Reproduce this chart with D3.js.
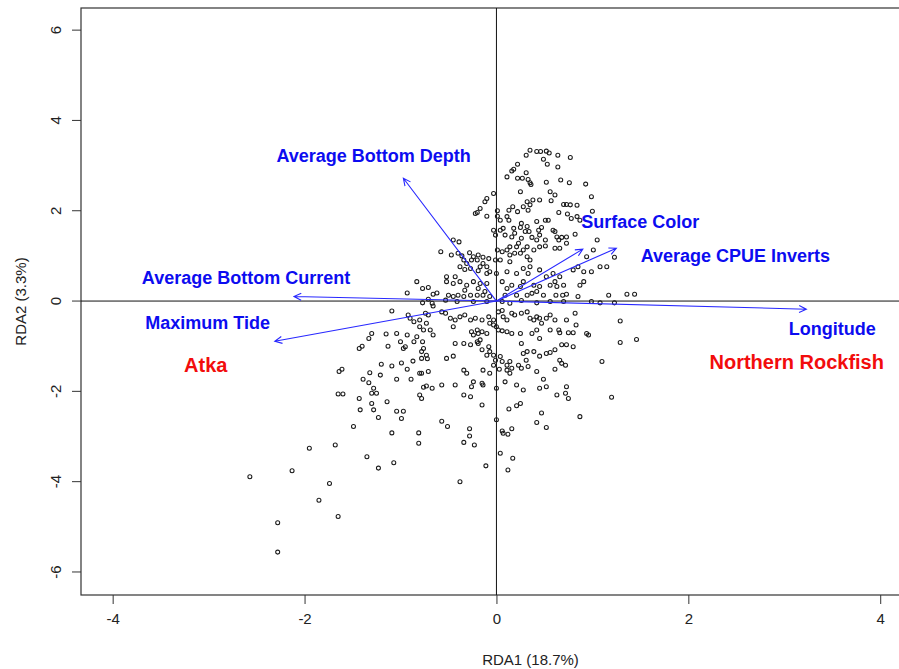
<!DOCTYPE html>
<html>
<head>
<meta charset="utf-8">
<script src="https://cdn.jsdelivr.net/npm/d3@7"></script>
<style>
  html, body { margin: 0; padding: 0; background: #fff; }
  svg { display: block; font-family: "Liberation Sans", Arial, sans-serif; }
</style>
</head>
<body>
<div id="chart"></div>
<script>
// site scores [RDA1, RDA2]
const siteScores = [
  [0.31,3.23],[0.35,3.34],[0.42,3.31],[0.46,3.31],[0.52,3.32],[0.55,3.28],[0.64,3.23],[0.77,3.18],
  [0.49,3.14],[0.53,3.03],[0.64,2.97],[0.22,3.03],[0.18,2.92],[0.16,2.88],[0.31,2.84],[0.22,2.72],
  [0.27,2.72],[0.33,2.69],[0.35,2.62],[0.36,2.58],[0.52,2.63],[0.67,2.68],[0.76,2.62],[0.93,2.59],
  [0.11,2.75],[0.25,2.42],[-0.03,2.38],[-0.10,2.27],[-0.12,2.20],[-0.17,2.05],[-0.22,1.94],[-0.20,1.96],
  [-0.10,1.88],[0.01,2.00],[0.01,1.88],[0.13,2.01],[0.17,2.09],[0.22,1.98],[0.28,2.09],[0.32,2.20],
  [0.35,2.13],[0.33,2.01],[0.38,2.24],[0.45,2.24],[0.56,2.42],[0.57,2.22],[0.61,2.35],[0.70,2.14],
  [0.73,2.14],[0.77,2.13],[0.84,2.12],[0.99,2.31],[1.00,1.99],[0.74,1.93],[0.78,1.83],[0.84,1.87],
  [0.87,1.79],[0.65,1.96],[0.54,1.79],[0.51,1.79],[0.42,1.76],[0.44,1.57],[0.47,1.63],[0.32,1.65],
  [0.26,1.72],[0.25,1.63],[0.18,1.61],[0.13,1.79],[0.11,1.87],[0.04,1.79],[0.07,1.61],[-0.03,1.57],
  [-0.01,1.46],[0.04,1.57],[0.09,1.46],[0.16,1.42],[0.19,1.50],[0.23,1.28],[0.26,1.39],[0.30,1.54],
  [0.34,1.54],[0.37,1.41],[0.42,1.35],[0.45,1.46],[0.51,1.35],[0.59,1.57],[0.61,1.54],[0.63,1.42],
  [0.65,1.35],[0.68,1.41],[0.73,1.42],[0.82,1.48],[0.61,1.17],[0.66,1.17],[0.73,1.28],[0.51,1.22],
  [0.45,1.20],[0.39,1.13],[0.32,1.20],[0.28,1.13],[0.21,1.20],[0.14,1.20],[0.11,1.13],[0.06,1.09],
  [0.01,1.13],[0.14,1.02],[0.19,1.06],[0.25,1.06],[0.32,0.98],[0.35,0.91],[0.14,0.87],[0.04,0.91],
  [-0.01,0.91],[-0.08,0.94],[-0.14,0.97],[-0.19,1.02],[-0.24,0.98],[-0.26,0.91],[-0.20,0.91],[-0.14,0.83],
  [-0.10,0.76],[-0.17,0.76],[-0.31,0.83],[-0.34,0.91],[-0.40,1.06],[-0.45,1.35],[-0.47,1.02],[-0.38,0.76],
  [-0.33,0.70],[-0.27,0.72],[-0.19,0.67],[-0.07,0.65],[0.00,0.61],[0.11,0.65],[0.21,0.61],[0.28,0.72],
  [0.35,0.76],[0.33,0.61],[0.45,0.69],[0.52,0.54],[0.59,0.61],[0.66,0.54],[0.80,0.69],[0.85,0.76],
  [0.91,0.65],[0.99,0.65],[1.05,1.35],[1.08,0.76],[1.15,0.76],[0.94,0.98],[1.01,1.13],[1.23,0.97],
  [-0.52,0.54],[-0.43,0.54],[-0.10,0.61],[-0.58,1.09],[-0.39,1.31],[-0.28,1.07],[-0.36,1.00],
  [-0.52,0.43],[-0.45,0.39],[-0.38,0.43],[-0.31,0.35],[-0.24,0.43],[-0.17,0.39],[-0.10,0.39],[0.06,0.43],
  [0.16,0.35],[0.28,0.43],[0.39,0.35],[0.45,0.32],[0.56,0.35],[0.61,0.43],[0.63,0.32],[0.70,0.35],
  [0.87,0.35],[0.91,0.43],[-0.50,0.13],[-0.45,0.10],[-0.40,0.13],[-0.34,0.10],[-0.27,0.13],[-0.20,0.13],
  [-0.14,0.13],[-0.07,0.10],[0.09,0.13],[0.21,0.13],[0.32,0.13],[0.37,0.17],[0.42,0.21],[0.49,0.13],
  [0.62,0.13],[0.69,0.13],[0.73,0.15],[0.85,0.10],[1.17,0.13],[1.36,0.15],[1.44,0.15],[-0.33,0.24],
  [-0.19,0.28],[-0.12,0.21],[0.11,0.28],[0.25,0.32],
  [-0.53,0.02],[-0.41,-0.01],[-0.24,-0.01],[-0.10,-0.01],[0.06,-0.01],[0.14,-0.05],[0.26,0.01],[0.42,-0.04],
  [0.56,-0.01],[0.70,-0.01],[0.99,-0.01],[1.08,-0.04],[1.23,-0.04],
  [-0.57,-0.24],[-0.53,-0.27],[-0.48,-0.38],[-0.43,-0.42],[-0.45,-0.57],[-0.38,-0.35],[-0.33,-0.31],[-0.27,-0.42],
  [-0.22,-0.38],[-0.15,-0.42],[-0.08,-0.35],[-0.03,-0.42],[0.02,-0.24],[0.06,-0.21],[0.07,-0.35],[0.11,-0.42],
  [0.16,-0.27],[0.19,-0.31],[0.26,-0.27],[0.32,-0.24],[0.35,-0.38],[0.39,-0.42],[0.42,-0.35],[0.45,-0.38],
  [0.47,-0.49],[0.52,-0.38],[0.56,-0.31],[0.61,-0.42],[0.73,-0.42],[0.82,-0.27],[0.83,-0.53],[1.29,-0.44],
  [0.42,-0.64],[0.37,-0.72],[0.56,-0.64],[0.65,-0.64],[0.66,-0.70],[0.75,-0.70],[0.80,-0.70],[0.94,-0.72],
  [0.96,-0.75],[0.45,-0.83],[0.25,-0.72],[0.26,-0.94],[0.28,-1.16],[0.32,-1.12],[0.39,-1.12],[0.45,-1.22],
  [0.52,-1.16],[0.56,-1.14],[0.61,-1.08],[0.68,-0.97],[0.73,-0.97],[0.80,-1.01],[0.16,-0.72],[0.11,-0.68],
  [0.06,-0.66],[0.02,-0.64],[0.00,-0.57],[-0.03,-0.53],[-0.07,-0.49],[-0.10,-0.72],[-0.15,-0.68],[-0.19,-0.72],
  [-0.24,-0.75],[-0.26,-0.68],[-0.20,-0.64],[-0.17,-0.86],[-0.15,-1.08],[-0.19,-0.94],[-0.27,-0.97],[-0.34,-0.94],
  [-0.43,-0.94],[-0.52,-1.27],[-0.45,-1.22],[-0.20,-0.90],[-0.08,-1.01],[-0.07,-1.12],[-0.03,-1.20],[-0.10,-1.20],
  [-0.01,-1.31],[0.04,-1.23],[0.06,-1.34],[-0.03,-1.42],[0.03,-1.51],[0.11,-1.42],[0.14,-1.34],[0.11,-1.53],
  [0.16,-1.49],[0.14,-1.60],[0.23,-1.42],[0.26,-1.49],[0.33,-1.45],[0.31,-1.31],[0.42,-1.56],[0.49,-1.73],
  [0.61,-1.51],[0.66,-1.31],[0.68,-1.38],[0.72,-1.42],[0.45,-1.93],[0.52,-1.90],[0.63,-2.08],[0.72,-2.04],
  [0.75,-2.16],[0.73,-1.90],[0.87,-2.56],[1.10,-1.34],[1.20,-2.13],[1.29,-0.92],[1.46,-0.85],[-0.34,-1.53],
  [-0.31,-1.60],[-0.24,-1.79],[-0.14,-1.53],[-0.07,-1.60],[-0.15,-1.82],[-0.14,-1.86],[-0.26,-1.90],[-0.43,-1.86],
  [-0.57,-1.86],[-0.34,-2.08],[-0.27,-2.12],[-0.15,-2.30],[0.00,-1.93],[0.09,-1.79],[0.21,-1.86],[0.28,-1.97],
  [0.25,-2.27],[0.21,-2.32],[0.13,-2.39],[0.47,-2.48],[0.00,-2.63],
  [-0.83,0.43],[-0.77,0.28],[-0.71,0.30],[-0.93,0.18],[-0.66,0.15],[-0.62,0.18],[-0.77,-0.04],[-0.71,0.04],
  [-0.67,-0.05],[-0.66,-0.11],[-1.09,-0.22],[-0.92,-0.31],[-0.90,-0.38],[-0.86,-0.46],[-0.80,-0.42],[-0.74,-0.27],
  [-0.71,-0.31],[-0.80,-0.57],[-0.76,-0.64],[-0.73,-0.49],[-0.69,-0.64],[-0.66,-0.75],[-1.15,-0.73],[-1.04,-0.72],
  [-1.33,-0.83],[-1.30,-0.72],[-1.43,-1.05],[-1.40,-1.00],[-1.13,-1.00],[-0.95,-1.01],[-0.97,-1.05],[-1.00,-0.90],
  [-0.93,-0.75],[-0.86,-0.90],[-0.83,-0.79],[-0.77,-0.90],[-0.76,-1.05],[-0.78,-1.12],[-0.73,-1.20],[-0.72,-1.28],
  [-0.78,-1.27],[-0.99,-1.37],[-1.09,-1.44],[-1.20,-1.40],[-0.87,-1.33],[-1.61,-1.51],[-1.64,-1.56],[-1.32,-1.59],
  [-1.21,-1.64],[-1.04,-1.73],[-0.93,-1.51],[-0.89,-1.73],[-0.80,-1.60],[-0.78,-1.60],[-0.71,-1.56],[-1.39,-1.73],
  [-1.33,-1.81],[-1.28,-1.93],[-1.30,-2.04],[-1.25,-2.04],[-1.65,-2.06],[-1.60,-2.06],[-1.43,-2.16],[-1.14,-2.23],
  [-1.30,-2.27],[-1.28,-2.41],[-1.04,-2.44],[-0.97,-2.44],[-0.80,-2.08],[-0.78,-2.16],[-0.76,-1.91],[-0.73,-1.88],
  [-0.67,-1.93],[-1.42,-2.41],[-1.23,-2.58],[-0.99,-2.60],
  [-1.49,-2.78],[-1.09,-2.92],[-0.81,-2.92],[-0.81,-3.15],[-1.95,-3.26],[-1.68,-3.19],[-1.35,-3.45],[-1.07,-3.58],
  [-1.23,-3.70],[-2.13,-3.76],[-2.57,-3.89],[-1.74,-4.04],[-1.85,-4.41],[-1.65,-4.77],[-2.28,-4.91],[-2.28,-5.56],
  [-0.57,-2.66],[-0.51,-2.78],[-0.28,-2.83],[-0.28,-2.99],[-0.34,-3.13],[-0.23,-3.19],[-0.11,-3.65],[-0.38,-4.00],
  [0.06,-2.88],[0.07,-2.93],[0.12,-2.95],[0.16,-2.83],[0.04,-3.37],[0.17,-3.48],[0.12,-3.74],[0.42,-2.69],
  [0.52,-2.80]
];

// environmental vectors (arrow tips) and their label positions
const envNames = ["Average Bottom Depth", "Surface Color", "Average CPUE Inverts",
                  "Average Bottom Current", "Maximum Tide", "Longitude"];
const envRDA1 = [-0.97, 0.90, 1.25, -2.11, -2.31, 3.23];
const envRDA2 = [2.72, 1.15, 1.17, 0.10, -0.89, -0.18];
const envLabelRDA1 = [-1.28, 1.50, 2.49, -2.61, -3.01, 3.50];
const envLabelRDA2 = [3.21, 1.75, 1.00, 0.51, -0.49, -0.62];

// species scores (labels only)
const speciesNames = ["Atka", "Northern Rockfish"];
const speciesRDA1 = [-3.03, 3.13];
const speciesRDA2 = [-1.42, -1.35];

const xTicks = [-4, -2, 0, 2, 4];
const yTicks = [-6, -4, -2, 0, 2, 4, 6];

const W = 899, H = 669;
const margin = {left: 81, top: 8, right: -81, bottom: 74};

const svg = d3.select("#chart").append("svg")
  .attr("width", W)
  .attr("height", H);

const x = d3.scaleLinear()
  .domain([-4.33, 5.04])
  .range([margin.left, W - margin.right]);

const y = d3.scaleLinear()
  .domain([-6.51, 6.49])
  .range([H - margin.bottom, margin.top]);

const axisColor = "#333";

// axes
const xAxis = d3.axisBottom(x).tickValues(xTicks).tickSize(9).tickPadding(6)
  .tickFormat(d => d < 0 ? "-" + Math.abs(d) : d);
const yAxis = d3.axisLeft(y).tickValues(yTicks).tickSize(9).tickPadding(6)
  .tickFormat(d => d < 0 ? "-" + Math.abs(d) : d);

const gx = svg.append("g")
  .attr("transform", `translate(0,${H - margin.bottom})`)
  .call(xAxis);
gx.select(".domain").remove();
gx.selectAll("line").attr("stroke", axisColor);
gx.selectAll("text").attr("font-size", 15).attr("fill", "#222")
  .attr("font-family", "Liberation Sans, Arial, sans-serif").attr("dy", "0.95em");

const gy = svg.append("g")
  .attr("transform", `translate(${margin.left},0)`)
  .call(yAxis);
gy.select(".domain").remove();
gy.selectAll("line").attr("stroke", axisColor);
gy.selectAll("text")
  .attr("font-size", 15).attr("fill", "#222")
  .attr("font-family", "Liberation Sans, Arial, sans-serif")
  .attr("text-anchor", "middle")
  .attr("x", null).attr("dy", null)
  .attr("transform", d => `translate(-26,${y(d)}) rotate(-90)`)
  .attr("y", 0)
  .attr("dominant-baseline", "central");
gy.selectAll(".tick").attr("transform", null);
gy.selectAll(".tick line").attr("transform", d => `translate(0,${y(d)})`);

// plot box
svg.append("rect")
  .attr("x", margin.left)
  .attr("y", margin.top)
  .attr("width", W - margin.right - margin.left)
  .attr("height", H - margin.bottom - margin.top)
  .attr("fill", "none")
  .attr("stroke", axisColor)
  .attr("stroke-width", 1.2);

// zero lines
svg.append("line")
  .attr("x1", margin.left).attr("x2", W - margin.right)
  .attr("y1", y(0)).attr("y2", y(0))
  .attr("stroke", "#111").attr("stroke-width", 1);
svg.append("line")
  .attr("x1", x(0)).attr("x2", x(0))
  .attr("y1", margin.top).attr("y2", H - margin.bottom)
  .attr("stroke", "#111").attr("stroke-width", 1);

// site points
svg.append("g").selectAll("circle")
  .data(siteScores)
  .enter()
  .append("circle")
  .attr("cx", d => x(d[0]))
  .attr("cy", d => y(d[1]))
  .attr("r", 2)
  .attr("fill", "none")
  .attr("stroke", "#1a1a1a")
  .attr("stroke-width", 1.05);

// arrows
const env = envNames.map((name, i) => ({
  name,
  x1: envRDA1[i], y1: envRDA2[i],
  lx: envLabelRDA1[i], ly: envLabelRDA2[i]
}));

const arrowPath = d => {
  const x0 = x(0), y0 = y(0), x1 = x(d.x1), y1 = y(d.y1);
  const a = Math.atan2(y1 - y0, x1 - x0);
  const len = 8, spread = Math.PI / 7;
  const h1 = [x1 - len * Math.cos(a - spread), y1 - len * Math.sin(a - spread)];
  const h2 = [x1 - len * Math.cos(a + spread), y1 - len * Math.sin(a + spread)];
  return `M${x0},${y0}L${x1},${y1}M${h1[0]},${h1[1]}L${x1},${y1}L${h2[0]},${h2[1]}`;
};

svg.append("g").selectAll("path")
  .data(env)
  .enter()
  .append("path")
  .attr("d", arrowPath)
  .attr("fill", "none")
  .attr("stroke", "#2828ff")
  .attr("stroke-width", 1.1);

svg.append("g").selectAll("text")
  .data(env)
  .enter()
  .append("text")
  .attr("x", d => x(d.lx))
  .attr("y", d => y(d.ly))
  .attr("text-anchor", "middle")
  .attr("dominant-baseline", "central")
  .attr("font-size", 18)
  .attr("font-weight", "bold")
  .attr("fill", "#0c0cf0")
  .text(d => d.name);

svg.append("g").selectAll("text")
  .data(speciesNames)
  .enter()
  .append("text")
  .attr("x", (d, i) => x(speciesRDA1[i]))
  .attr("y", (d, i) => y(speciesRDA2[i]))
  .attr("text-anchor", "middle")
  .attr("dominant-baseline", "central")
  .attr("font-size", 20)
  .attr("font-weight", "bold")
  .attr("fill", "#f20c0c")
  .text(d => d);

// axis titles
svg.append("text")
  .attr("x", (margin.left + W - margin.right) / 2)
  .attr("y", 659)
  .attr("text-anchor", "middle")
  .attr("dominant-baseline", "central")
  .attr("font-size", 15)
  .attr("fill", "#222")
  .text("RDA1 (18.7%)");

svg.append("text")
  .attr("transform", `translate(20,${(margin.top + H - margin.bottom) / 2}) rotate(-90)`)
  .attr("text-anchor", "middle")
  .attr("dominant-baseline", "central")
  .attr("font-size", 15)
  .attr("fill", "#222")
  .text("RDA2 (3.3%)");
</script>
</body>
</html>
